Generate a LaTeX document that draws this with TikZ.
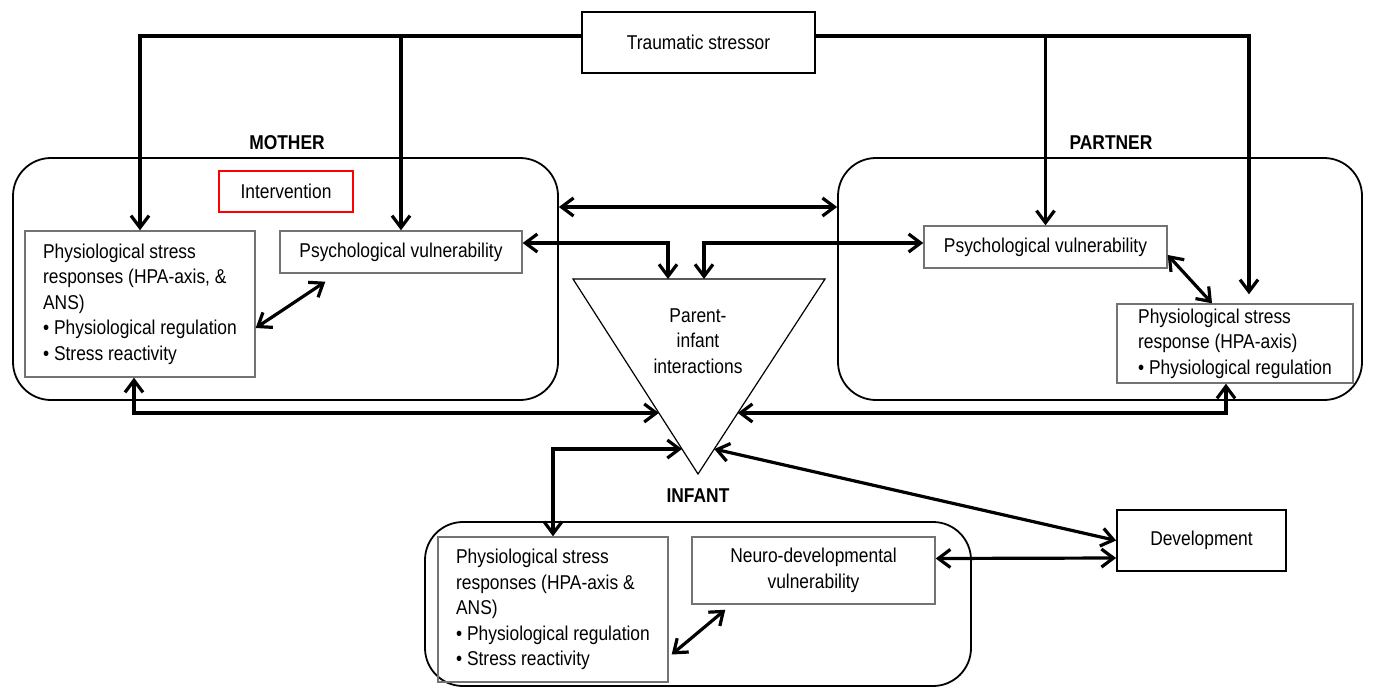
\documentclass[tikz,border=0pt]{standalone}
\usepackage{fontspec}
\setmainfont{Liberation Sans}[FakeStretch=0.87]
\usetikzlibrary{calc, arrows.meta, positioning}

\begin{document}
\begin{tikzpicture}[x=1pt, y=-1pt,
    font=\fontsize{20}{25.5}\selectfont,
    group/.style={draw, rounded corners=38pt, line width=1.8pt},
    inbox/.style={draw=black!55, line width=1.4pt, inner sep=0pt},
    outbox/.style={draw, line width=1.8pt, inner sep=0pt},
    arr/.style={-{Straight Barb[length=12pt, width=18pt]}, line width=3.2pt},
    darr/.style={{Straight Barb[length=12pt, width=18pt]}-{Straight Barb[length=12pt, width=18pt]}, line width=3.2pt},
    who/.style={font=\fontsize{20}{23}\selectfont\bfseries}]
  \useasboundingbox (0,0) rectangle (1373,688);

  % groups
  \node[group, minimum width=545pt, minimum height=242pt] (mother) at (285.5,279) {};
  \node[group, minimum width=524pt, minimum height=242pt] (partner) at (1100,279) {};
  \node[group, minimum width=546pt, minimum height=164pt] (infant) at (698,604) {};
  \node[who] (motherlbl) at (287,143) {MOTHER};
  \node[who] (partnerlbl) at (1111,143) {PARTNER};
  \node[who] (infantlbl) at (698,496) {INFANT};

  % boxes
  \node[outbox, minimum width=233pt, minimum height=61pt] (stressor) at (698.5,42.5) {Traumatic stressor};
  \node[outbox, draw=red, line width=1.6pt, minimum width=134pt, minimum height=41pt] (interv) at (286,191.5) {Intervention};
  \node[inbox, align=left, minimum width=230pt, minimum height=146pt] (mphys) at (140,304)
    {Physiological stress\\responses (HPA-axis, \&\\ANS)\\• Physiological regulation\\• Stress reactivity};
  \node[inbox, minimum width=242pt, minimum height=42pt] (mpsy) at (401,252) {Psychological vulnerability};
  \node[inbox, minimum width=243pt, minimum height=42pt] (ppsy) at (1045.5,247) {Psychological vulnerability};
  \node[inbox, align=left, minimum width=236pt, minimum height=79pt] (pphys) at (1235,343.5)
    {Physiological stress\\response (HPA-axis)\\• Physiological regulation};
  \node[inbox, align=left, minimum width=230pt, minimum height=145pt] (iphys) at (553,609.5)
    {Physiological stress\\responses (HPA-axis \&\\ANS)\\• Physiological regulation\\• Stress reactivity};
  \node[inbox, align=center, minimum width=243pt, minimum height=67pt] (neuro) at (813.5,570.5)
    {Neuro-developmental\\vulnerability};
  \node[outbox, minimum width=169pt, minimum height=61pt] (dev) at (1201.5,540.5) {Development};

  % triangle
  \coordinate (tl) at (573,279);
  \coordinate (tr) at (825,279);
  \coordinate (tb) at (698,474);
  \coordinate (tin1) at (668,279);
  \coordinate (tin2) at (704,279);
  \draw[line width=1.2pt] (tl) -- (tr) -- (tb) -- cycle;
  \node[align=center] (pii) at (698,341) {Parent-\\infant\\interactions};

  % stressor arrows
  \draw[arr] ([yshift=6.5pt]stressor.west) -| (mphys.north);
  \draw[arr] ([yshift=6.5pt]stressor.west) -| (mpsy.north);
  \draw[arr] ([yshift=6.5pt]stressor.east) -| (ppsy.north);
  \draw[arr] ([yshift=6.5pt]stressor.east) -| ([xshift=14pt,yshift=9pt]pphys.north);

  % links
  \draw[darr] ([yshift=72pt]mother.east) -- ([yshift=72pt]partner.west);
  \draw[darr] ([yshift=9pt]mpsy.east) -| (tin1);
  \draw[darr] ([yshift=4pt]ppsy.west) -| (tin2);
  \draw[darr] ([xshift=-6pt]mphys.south) |- ($(tl)!0.687!(tb)$);
  \draw[darr] ([xshift=-9pt]pphys.south) |- ($(tr)!0.687!(tb)$);
  \draw[darr] ($(tl)!0.872!(tb)$) -| (iphys.north);
  \draw[darr] ($(tr)!0.872!(tb)$) -- (dev.west);
  \draw[darr] ([yshift=12pt]neuro.east) -- ([yshift=-17.5pt]dev.west);
  \draw[darr] ([yshift=-24pt]mphys.east) -- ([xshift=46pt,yshift=-8pt]mpsy.south west);
  \draw[darr] ([yshift=-8pt]ppsy.east) -- ([xshift=-23pt]pphys.north);
  \draw[darr] ([xshift=3pt,yshift=-45pt]iphys.east) -- ([xshift=34pt,yshift=-5pt]neuro.south west);
\end{tikzpicture}
\end{document}
